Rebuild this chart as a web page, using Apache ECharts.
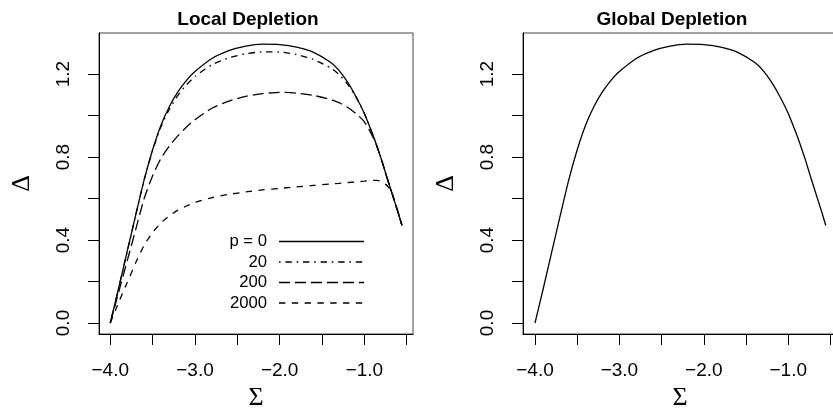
<!DOCTYPE html>
<html lang="en">
<head>
<meta charset="UTF-8">
<title>Local / Global Depletion</title>
<script src="https://cdn.jsdelivr.net/npm/echarts@6/dist/echarts.min.js"></script>
<style>body{margin:0;background:#fff;}</style>
</head>
<body>
<div id="chartmain" style="width: 833px; height: 410px;"></div>
<script type="text/javascript">
// values
var sigma = [-4.0, -3.9, -3.8, -3.7, -3.6, -3.5, -3.4, -3.3, -3.2, -3.1, -3.0, -2.8, -2.6, -2.4, -2.2, -2.0,
             -1.8, -1.6, -1.4, -1.3, -1.2, -1.1, -1.0, -0.9, -0.85, -0.8, -0.74, -0.68, -0.6, -0.556];
var p0 = [0, 0.17, 0.345, 0.52, 0.69, 0.835, 0.955, 1.045, 1.115, 1.17, 1.212, 1.275, 1.313, 1.335, 1.344, 1.342,
          1.33, 1.305, 1.257, 1.218, 1.162, 1.092, 1.01, 0.907, 0.85, 0.79, 0.71, 0.633, 0.53, 0.47];
var p20 = [0, 0.17, 0.345, 0.52, 0.69, 0.832, 0.948, 1.033, 1.098, 1.148, 1.188, 1.245, 1.278, 1.298, 1.307, 1.306,
           1.295, 1.27, 1.23, 1.198, 1.152, 1.09, 1.01, 0.907, 0.85, 0.79, 0.71, 0.633, 0.53, 0.47];
var p200 = [0, 0.15, 0.3, 0.45, 0.6, 0.71, 0.795, 0.855, 0.903, 0.945, 0.98, 1.035, 1.07, 1.093, 1.106, 1.112,
            1.108, 1.097, 1.078, 1.062, 1.04, 1.01, 0.97, 0.897, 0.85, 0.79, 0.71, 0.633, 0.53, 0.47];
var p2000 = [0, 0.1, 0.195, 0.29, 0.375, 0.437, 0.483, 0.518, 0.544, 0.564, 0.581, 0.604, 0.62, 0.632, 0.642, 0.649,
             0.656, 0.663, 0.67, 0.673, 0.677, 0.68, 0.684, 0.688, 0.688, 0.682, 0.665, 0.633, 0.53, 0.47];
var globalDelta = [0, 0.17, 0.345, 0.52, 0.69, 0.835, 0.955, 1.045, 1.115, 1.17, 1.212, 1.275, 1.313, 1.335, 1.344, 1.342,
                   1.33, 1.305, 1.257, 1.218, 1.162, 1.092, 1.01, 0.907, 0.85, 0.79, 0.71, 0.633, 0.53, 0.47];

var xTicks = [-4.0, -3.5, -3.0, -2.5, -2.0, -1.5, -1.0, -0.5];
var xLabels = [-4.0, -3.0, -2.0, -1.0];
var yTicks = [0, 0.2, 0.4, 0.6, 0.8, 1.0, 1.2];
var yLabels = [0, 0.4, 0.8, 1.2];
var legendNames = ['p = 0', '20', '200', '2000'];

function pairs(ys) {
    return sigma.map(function (s, i) { return [s, ys[i]]; });
}
function fmt(v) {
    return v.toFixed(1).replace('-', '\u2212');
}

var sans = 'Liberation Sans';
var serif = 'Liberation Serif';

function xAxisFor(idx, min, max) {
    return {
        type: 'value', gridIndex: idx, min: min, max: max,
        name: '\u03A3', nameLocation: 'middle', nameGap: 47,
        nameTextStyle: {fontFamily: serif, fontSize: 26, color: '#000'},
        axisLine: {show: true, onZero: false, lineStyle: {color: '#000', width: 1}},
        axisTick: {show: true, length: 11, customValues: xTicks, lineStyle: {color: '#000', width: 1}},
        axisLabel: {customValues: xLabels, formatter: fmt, fontFamily: sans, fontSize: 19, color: '#000', margin: 27},
        splitLine: {show: false}
    };
}
function yAxisFor(idx) {
    return {
        type: 'value', gridIndex: idx, min: -0.053, max: 1.398,
        name: '\u0394', nameLocation: 'middle', nameGap: 64, nameRotate: 90,
        nameTextStyle: {fontFamily: serif, fontSize: 26, color: '#000'},
        axisLine: {show: true, onZero: false, lineStyle: {color: '#000', width: 1}},
        axisTick: {show: true, length: 11, customValues: yTicks, lineStyle: {color: '#000', width: 1}},
        axisLabel: {customValues: yLabels, formatter: fmt, rotate: 90, fontFamily: sans, fontSize: 19, color: '#000', margin: 26},
        splitLine: {show: false}
    };
}
function curve(name, ys, idx, dash) {
    return {
        name: name, type: 'line', xAxisIndex: idx, yAxisIndex: idx,
        data: pairs(ys), symbol: 'none', showSymbol: false, smooth: 0.2,
        itemStyle: {color: '#000'},
        lineStyle: {color: '#000', width: 1.3, type: dash}
    };
}

var myChart = echarts.init(document.getElementById('chartmain'));
var option = {
    animation: false,
    backgroundColor: '#fff',
    title: [
        {text: 'Local Depletion', left: 243, top: 5, textAlign: 'center',
         textStyle: {fontFamily: sans, fontSize: 19, fontWeight: 'bold', color: '#000'}},
        {text: 'Global Depletion', left: 667, top: 5, textAlign: 'center',
         textStyle: {fontFamily: sans, fontSize: 19, fontWeight: 'bold', color: '#000'}}
    ],
    legend: {
        data: legendNames, orient: 'vertical', align: 'right',
        left: 217, top: 228, itemWidth: 85, itemHeight: 12, itemGap: 3.5,
        selectedMode: false,
        itemStyle: {opacity: 0},
        lineStyle: {width: 1.3, color: '#000'},
        textStyle: {fontFamily: sans, fontSize: 16.7, color: '#000', width: 45, align: 'right', padding: [0, 7, 0, 0], lineHeight: 17}
    },
    grid: [
        {left: 99, top: 33, width: 314, height: 301, outerBoundsMode: 'none', containLabel: false,
         show: true, borderColor: '#444', borderWidth: 1, backgroundColor: 'transparent'},
        {left: 523, top: 33, width: 314, height: 301, outerBoundsMode: 'none', containLabel: false,
         show: true, borderColor: '#444', borderWidth: 1, backgroundColor: 'transparent'}
    ],
    xAxis: [xAxisFor(0, -4.133, -0.426), xAxisFor(1, -4.142, -0.423)],
    yAxis: [yAxisFor(0), yAxisFor(1)],
    series: [
        curve('p = 0', p0, 0, 'solid'),
        curve('20', p20, 0, [1.6, 4.8, 6.4, 4.8]),
        curve('200', p200, 0, [11, 5]),
        curve('2000', p2000, 0, [6.4, 6.4]),
        curve('Global', globalDelta, 1, 'solid')
    ]
};
myChart.setOption(option);
</script>
</body>
</html>
